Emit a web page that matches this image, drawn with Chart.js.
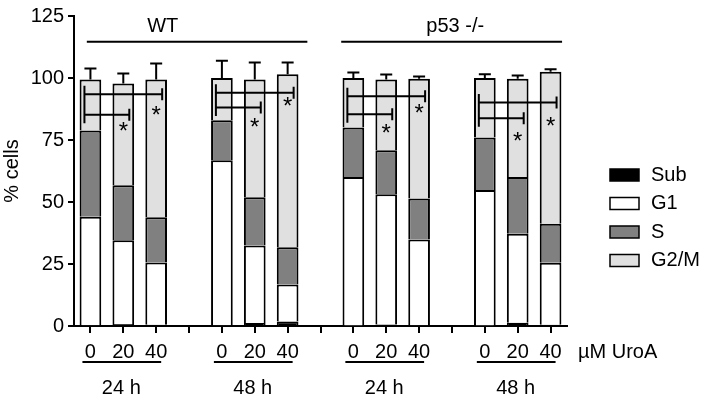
<!DOCTYPE html>
<html>
<head>
<meta charset="utf-8">
<script src="https://cdn.jsdelivr.net/npm/chart.js@4.4.1/dist/chart.umd.min.js"></script>
<style>
  body { margin: 0; background: #fff; }
</style>
</head>
<body>
<canvas id="cellCycleChart" width="703" height="402"></canvas>
<script>
// Datos (12 barras: WT 24h, WT 48h, p53 24h, p53 48h x 0/20/40 µM)
var doses = ['0', '20', '40'];
var timeLabels = ['24 h', '48 h', '24 h', '48 h'];
var genotypes = ['WT', 'p53 -/-'];
var yTicks = [0, 25, 50, 75, 100, 125];

var subPhase = [0.3, 0.8, 0.5, 0.3, 1.2, 1.8, 0.2, 0.6, 0.3, 0.2, 1.3, 0.5];
var g1Phase  = [43.8, 33.8, 25.1, 66.5, 31.3, 14.9, 59.9, 52.5, 34.6, 54.6, 35.9, 25.0];
var sPhase   = [34.7, 22.2, 18.3, 16.2, 19.4, 15.1, 19.9, 17.8, 16.5, 21.2, 22.9, 15.7];
var g2mPhase = [20.6, 41.0, 55.5, 17.0, 47.5, 69.7, 20.0, 28.5, 48.3, 24.0, 39.6, 61.3];
var errUp    = [4.4, 4.0, 6.4, 7.0, 6.9, 4.8, 2.2, 2.0, 0.9, 1.5, 1.3, 1.0];

// corchetes de significancia: [hasta 20 µM, hasta 40 µM] por grupo
var bracketY = [[85.2, 93.4], [88.1, 94.1], [85.4, 92.6], [83.8, 90.1]];
var starY    = [[79.5, 86.0], [81.2, 89.6], [78.8, 86.8], [75.5, 81.9]];
var genotypeLineY = 114.6;

var seriesNames = ['Sub', 'G1', 'S', 'G2/M'];
var seriesColors = ['#000000', '#ffffff', '#808080', '#e0e0e0'];

var FONT = 'Arial, "Liberation Sans", sans-serif';

// 15 posiciones: 3 barras + hueco por grupo
function slotOf(b) { return b + Math.floor(b / 3); }
var slotLabels = [];
for (var g = 0; g < 4; g++) {
    doses.forEach(function(d) { slotLabels.push(d); });
    if (g < 3) slotLabels.push('');
}
function spread(arr) {
    var out = slotLabels.map(function() { return null; });
    arr.forEach(function(v, b) { out[slotOf(b)] = v; });
    return out;
}

var seriesData = [subPhase, g1Phase, sPhase, g2mPhase];

function xAt(chart, i) {
    var x = chart.scales.x;
    var p0 = x.getPixelForValue(0);
    var p1 = x.getPixelForValue(1);
    return p0 + i * (p1 - p0);
}

var annotations = {
    id: 'annotations',
    afterDatasetsDraw: function(chart) {
        var ctx = chart.ctx;
        var y = chart.scales.y;
        ctx.save();
        ctx.strokeStyle = '#000';
        ctx.lineWidth = 2;

        // barras de error (solo hacia arriba)
        for (var b = 0; b < 12; b++) {
            var total = subPhase[b] + g1Phase[b] + sPhase[b] + g2mPhase[b];
            var cx = xAt(chart, slotOf(b));
            var y1 = y.getPixelForValue(total);
            var y2 = y.getPixelForValue(total + errUp[b]);
            ctx.beginPath();
            ctx.moveTo(cx, y1);
            ctx.lineTo(cx, y2);
            ctx.moveTo(cx - 6, y2);
            ctx.lineTo(cx + 6, y2);
            ctx.stroke();
        }

        // corchetes y asteriscos
        ctx.fillStyle = '#000';
        ctx.font = '24px ' + FONT;
        ctx.textAlign = 'center';
        ctx.textBaseline = 'middle';
        for (var g = 0; g < 4; g++) {
            var x0 = xAt(chart, slotOf(g * 3)) - 6;
            var yLow = y.getPixelForValue(bracketY[g][0]);
            var yHigh = y.getPixelForValue(bracketY[g][1]);
            ctx.beginPath();
            ctx.moveTo(x0, yHigh - 8.5);
            ctx.lineTo(x0, yLow + 8.5);
            for (var k = 0; k < 2; k++) {
                var yy = y.getPixelForValue(bracketY[g][k]);
                var xe = xAt(chart, slotOf(g * 3 + k + 1)) + 6;
                ctx.moveTo(x0, yy);
                ctx.lineTo(xe, yy);
                ctx.moveTo(xe, yy - 6);
                ctx.lineTo(xe, yy + 6);
            }
            ctx.stroke();
            for (var k2 = 0; k2 < 2; k2++) {
                var sx = xAt(chart, slotOf(g * 3 + k2 + 1));
                var sy = y.getPixelForValue(starY[g][k2]);
                ctx.fillText('*', sx, sy + 4);
            }
        }
        ctx.restore();
    },
    afterDraw: function(chart) {
        var ctx = chart.ctx;
        var y = chart.scales.y;
        var area = chart.chartArea;
        ctx.save();
        ctx.strokeStyle = '#000';
        ctx.fillStyle = '#000';
        ctx.lineWidth = 2;
        ctx.font = '20px ' + FONT;
        ctx.textBaseline = 'middle';
        ctx.textAlign = 'center';

        // genotipos arriba
        var ly = y.getPixelForValue(genotypeLineY);
        var spans = [[-0.11, 6.6, 2.2], [7.63, 14.35, 11.1]];
        spans.forEach(function(s, i) {
            ctx.beginPath();
            ctx.moveTo(xAt(chart, s[0]), ly);
            ctx.lineTo(xAt(chart, s[1]), ly);
            ctx.stroke();
            ctx.fillText(genotypes[i], xAt(chart, s[2]), ly - 15);
        });

        // subrayado y tiempos
        for (var g = 0; g < 4; g++) {
            var a = xAt(chart, slotOf(g * 3)) - 8;
            var e = xAt(chart, slotOf(g * 3 + 2)) + 5;
            ctx.beginPath();
            ctx.moveTo(a, area.bottom + 36);
            ctx.lineTo(e, area.bottom + 36);
            ctx.stroke();
            ctx.fillText(timeLabels[g], xAt(chart, slotOf(g * 3 + 1)) - 2, area.bottom + 62);
        }
        ctx.textAlign = 'left';
        ctx.fillText('\u00b5M UroA', area.right + 11, area.bottom + 26);

        // leyenda
        var lx = 610;
        var ly0 = 175;
        seriesNames.forEach(function(name, i) {
            var cy = ly0 + i * 28.5;
            ctx.fillStyle = seriesColors[i];
            ctx.fillRect(lx, cy - 6, 29, 12);
            ctx.lineWidth = 1.5;
            ctx.strokeStyle = '#000';
            ctx.strokeRect(lx, cy - 6, 29, 12);
            ctx.fillStyle = '#000';
            ctx.fillText(name, lx + 41, cy);
        });
        ctx.restore();
    }
};

var chart = new Chart(document.getElementById('cellCycleChart'), {
    type: 'bar',
    data: {
        labels: slotLabels,
        datasets: seriesNames.map(function(name, i) {
            return {
                label: name,
                data: spread(seriesData[i]),
                backgroundColor: seriesColors[i],
                borderColor: '#000',
                borderWidth: 2,
                categoryPercentage: 1,
                barPercentage: 0.66
            };
        })
    },
    options: {
        responsive: false,
        animation: false,
        layout: { padding: { top: 12, right: 136, bottom: 0, left: 0 } },
        plugins: {
            legend: { display: false },
            tooltip: { enabled: false }
        },
        scales: {
            x: {
                stacked: true,
                afterFit: function(scale) { scale.height = 76; },
                grid: {
                    display: true,
                    drawOnChartArea: false,
                    offset: false,
                    color: '#000',
                    lineWidth: 2,
                    tickLength: 7
                },
                border: { display: true, color: '#000', width: 2 },
                ticks: {
                    color: '#000',
                    font: { size: 20, family: FONT },
                    padding: 7,
                    maxRotation: 0,
                    autoSkip: false
                }
            },
            y: {
                stacked: true,
                min: 0,
                max: 125,
                afterFit: function(scale) { scale.width = 74; },
                afterBuildTicks: function(scale) {
                    scale.ticks = yTicks.map(function(v) { return { value: v }; });
                },
                grid: {
                    display: true,
                    drawOnChartArea: false,
                    color: '#000',
                    lineWidth: 2,
                    tickLength: 6
                },
                border: { display: true, color: '#000', width: 2 },
                ticks: {
                    color: '#000',
                    font: { size: 20, family: FONT },
                    padding: 4
                },
                title: {
                    display: true,
                    text: '% cells',
                    color: '#000',
                    font: { size: 20, family: FONT },
                    padding: { top: 0, bottom: 0 }
                }
            }
        }
    },
    plugins: [annotations]
});
</script>
</body>
</html>
